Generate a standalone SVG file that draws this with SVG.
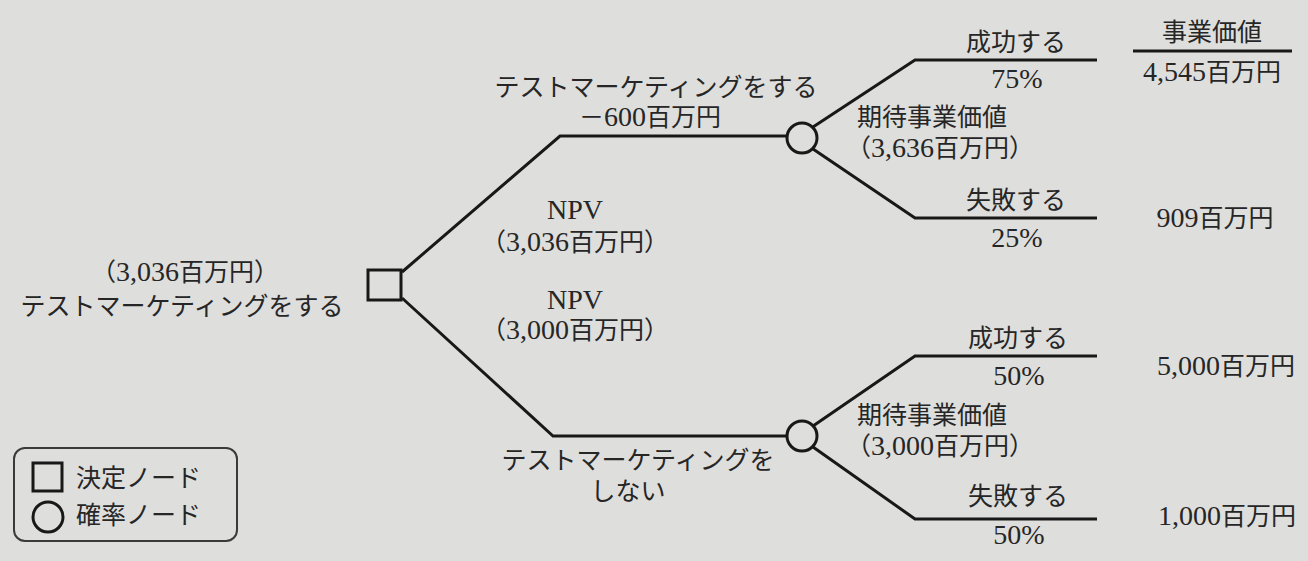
<svg xmlns="http://www.w3.org/2000/svg" width="1308" height="561" viewBox="0 0 1308 561">
<style>
text{font-family:"Liberation Serif","Noto Sans CJK JP",serif;font-size:25px;fill:#262626}
.n{font-size:28px}
.m{text-anchor:middle}
.ln{fill:none;stroke:#181818;stroke-width:3;stroke-linejoin:miter}
.nd{fill:none;stroke:#181818;stroke-width:3}
</style>
<rect width="1308" height="561" fill="#dededc"/>
<g id="connectors">
<polyline class="ln" points="402,272 560,136 788,136"/>
<polyline class="ln" points="402,298 553,436 788,436"/>
<polyline class="ln" points="813,127 915,60 1097,60"/>
<polyline class="ln" points="813,149 915,218 1097,218"/>
<polyline class="ln" points="813,426 915,356 1097,356"/>
<polyline class="ln" points="813,447 915,519 1097,519"/>
</g>
<g id="decision">
<rect class="nd" x="368" y="270" width="33" height="30"/>
<text class="m" x="185" y="281">（<tspan class="n">3,036</tspan>百万円）</text>
<text class="m" x="182" y="315">テストマーケティングをする</text>
</g>
<g id="branch-test">
<text class="m" x="656" y="96" font-size="24">テストマーケティングをする</text>
<text class="m" x="650" y="126">－<tspan class="n">600</tspan>百万円</text>
<text class="m" x="575" y="219"><tspan class="n">NPV</tspan></text>
<text class="m" x="575" y="251">（<tspan class="n">3,036</tspan>百万円）</text>
</g>
<g id="branch-notest">
<text class="m" x="575" y="309"><tspan class="n">NPV</tspan></text>
<text class="m" x="575" y="339">（<tspan class="n">3,000</tspan>百万円）</text>
<text class="m" x="638" y="469">テストマーケティングを</text>
<text class="m" x="628" y="500">しない</text>
</g>
<g id="chance1">
<circle class="nd" cx="802" cy="138" r="15"/>
<text x="857" y="126">期待事業価値</text>
<text x="846" y="157">（<tspan class="n">3,636</tspan>百万円）</text>
<text class="m" x="1016" y="51">成功する</text>
<text class="m" x="1017" y="88"><tspan class="n">75%</tspan></text>
<text class="m" x="1016" y="209">失敗する</text>
<text class="m" x="1017" y="247"><tspan class="n">25%</tspan></text>
</g>
<g id="chance2">
<circle class="nd" cx="802" cy="436" r="15"/>
<text x="857" y="424">期待事業価値</text>
<text x="846" y="455">（<tspan class="n">3,000</tspan>百万円）</text>
<text class="m" x="1018" y="347">成功する</text>
<text class="m" x="1019" y="385"><tspan class="n">50%</tspan></text>
<text class="m" x="1018" y="505">失敗する</text>
<text class="m" x="1019" y="544"><tspan class="n">50%</tspan></text>
</g>
<g id="outcomes">
<text class="m" x="1212" y="41">事業価値</text>
<line x1="1133" y1="51" x2="1292" y2="51" stroke="#181818" stroke-width="3"/>
<text class="m" x="1212" y="81"><tspan class="n">4,545</tspan>百万円</text>
<text class="m" x="1215" y="227"><tspan class="n">909</tspan>百万円</text>
<text class="m" x="1226" y="375"><tspan class="n">5,000</tspan>百万円</text>
<text class="m" x="1227" y="525"><tspan class="n">1,000</tspan>百万円</text>
</g>
<g id="legend">
<rect x="14" y="448" width="223" height="93" rx="11" fill="none" stroke="#3a3a3a" stroke-width="2"/>
<rect class="nd" x="33" y="463" width="29" height="28" stroke-width="2.5"/>
<circle class="nd" cx="48" cy="517" r="15" stroke-width="2.5"/>
<text x="76" y="487" font-size="26">決定ノード</text>
<text x="76" y="524" font-size="26">確率ノード</text>
</g>
</svg>
